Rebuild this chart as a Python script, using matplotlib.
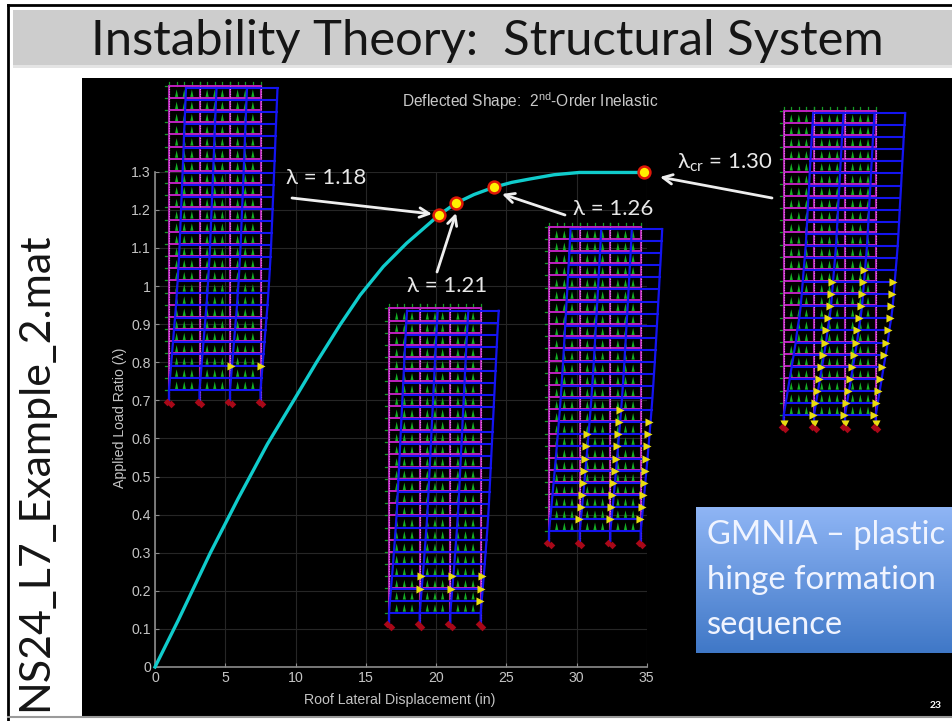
#!/usr/bin/env python3
"""Slide: load-displacement curve with deflected frame shapes at four load levels."""

import numpy as np
import matplotlib
matplotlib.use("Agg")
import matplotlib.pyplot as plt
from matplotlib.collections import PolyCollection
from matplotlib.patches import Rectangle

plt.rcParams['font.family'] = ['Lato', 'DejaVu Sans']
plt.rcParams['mathtext.fontset'] = 'custom'
plt.rcParams['mathtext.rm'] = 'DejaVu Sans'
plt.rcParams['mathtext.default'] = 'regular'

W, H = 952, 721

# load-displacement curve
roof_disp = [0, 1.66, 3.93, 5.93, 8, 9.96, 11.5, 13.17, 14.6, 16.25, 17.9, 19.8, 20.2, 21.4, 22.7, 24.1, 25.4, 26.7, 28.4, 30.2, 34.8]
load_ratio = [0, 0.123, 0.299, 0.443, 0.585, 0.705, 0.800, 0.898, 0.976, 1.051, 1.112, 1.173, 1.186, 1.217, 1.240, 1.259, 1.272, 1.281, 1.292, 1.298, 1.298]

# the four marked load levels
mark_disp = [20.2, 21.4, 24.1, 34.8]
mark_load = [1.186, 1.217, 1.259, 1.298]

x_ticks = [0, 5, 10, 15, 20, 25, 30, 35]
y_ticks = [0, 0.1, 0.2, 0.3, 0.4, 0.5, 0.6, 0.7, 0.8, 0.9, 1, 1.1, 1.2, 1.3]
y_tick_labels = ['0', '0.1', '0.2', '0.3', '0.4', '0.5', '0.6', '0.7', '0.8', '0.9', '1', '1.1', '1.2', '1.3']

# lateral drift of each floor level (bottom to top), in picture pixels
drift_a = [0, 1, 2, 3, 4, 5, 6, 7, 7.8, 8.6, 9.3, 10, 10.6, 11.1, 11.6, 12.1, 12.6, 13.1, 13.6, 14.1, 14.6, 15, 15.5, 16, 16.5, 17]
drift_b = [0, 1, 2, 3, 4, 4.9, 5.8, 6.7, 7.5, 8.2, 8.8, 9.4, 10, 10.6, 11.2, 11.8, 12.4, 13, 13.6, 14.2, 14.8, 15.4, 16, 16.6, 17.3, 18]
drift_c = [0, 1.2, 2.4, 3.5, 4.6, 5.7, 6.8, 7.8, 8.8, 9.8, 10.8, 11.7, 12.5, 13.3, 14.1, 14.8, 15.5, 16.2, 16.9, 17.6, 18.3, 18.9, 19.6, 20.3, 20.9, 21.5]
drift_d = [0, 2, 4, 6, 8, 10, 12, 13.5, 15.5, 17, 18, 19, 20, 21, 22, 22.7, 23.4, 24, 24.7, 25.4, 26, 26.7, 27.4, 28, 28.8, 29.5]

# plastic hinges: floor levels per column (columns 1..3 counted from the left)
hinges_a = {2: [2], 3: [2]}
hinges_b = {1: [2, 3], 2: [2, 3], 3: [1, 2, 3]}
hinges_c = {1: [1, 2, 3, 4, 5, 6, 7, 8],
            2: [1, 2, 3, 4, 5, 6, 7, 8, 9, 10],
            3: [1, 2, 3, 4, 5, 6, 7, 8, 9]}
hinges_d = {1: [0, 1, 2, 3, 4, 5, 6, 7, 8, 9, 10, 11],
            2: [0, 1, 2, 3, 4, 5, 6, 7, 8, 9, 10, 11, 12],
            3: [0, 1, 2, 3, 4, 5, 6, 7, 8, 9, 10, 11]}


def draw_frame(ax, columns, base_y, drift, hinges, base_hinges=False):
    """Undeformed frame in magenta, loads in green, deflected shape in blue."""
    story = 12.17
    levels = len(drift)
    floors = [base_y - story * i for i in range(levels)]
    drop = [2.3 * i / (levels - 1) for i in range(levels)]
    ground = base_y + 10

    # gravity load spikes and small lateral ticks
    spikes = []
    for i in range(levels):
        if i < levels - 1:
            for c in range(3):
                bay = columns[c + 1] - columns[c]
                for q in (0.25, 0.5, 0.75):
                    sx = columns[c] + q * bay
                    spikes.append([(sx - 1.6, floors[i] - 1), (sx + 1.6, floors[i] - 1), (sx, floors[i] - 8.5)])
        ax.plot([columns[0] - 4, columns[0]], [floors[i], floors[i]], color='#169a26', lw=0.9, zorder=3)
    ax.add_collection(PolyCollection(spikes, facecolors='#14b024', edgecolors='none', zorder=3))
    top = floors[-1]
    for c in range(3):
        for q in (0, 0.25, 0.5, 0.75, 1):
            sx = columns[c] + q * (columns[c + 1] - columns[c])
            ax.plot([sx, sx], [top - 4, top], color='#169a26', lw=0.9, zorder=3)

    # undeformed
    for y in floors:
        ax.plot([columns[0], columns[-1]], [y, y], color='#c020c0', lw=1.4, zorder=4)
    for x in columns:
        ax.plot([x, x], [ground, top], color='#b020b0', lw=1.5, zorder=4)
        ax.plot([x, x], [ground, top], color='#e08ce0', lw=0.8, ls=(0, (1, 1.2)), zorder=4)

    # deflected
    ys = [y + d for y, d in zip(floors, drop)]
    for i in range(levels):
        ax.plot([columns[0] + drift[i], columns[-1] + drift[i]], [ys[i], ys[i]], color='#1414f0', lw=1.5, zorder=5)
    for x in columns:
        px = [x] + [x + d for d in drift]
        py = [ground] + ys
        ax.plot(px, py, color='#1414f0', lw=1.6, zorder=5)

    # hinges
    for c, lv in hinges.items():
        hx = [columns[c] + drift[i] - 1.5 for i in lv]
        hy = [ys[i] for i in lv]
        ax.scatter(hx, hy, marker='>', s=34, color='#e8dc10', linewidths=0, zorder=6)
    if base_hinges:
        ax.scatter(columns, [base_y + 9] * 4, marker='v', s=34, color='#e8dc10', linewidths=0, zorder=6)

    # supports
    ax.scatter([x - 2 for x in columns], [ground + 1.5] * 4, marker='D', s=15, color='#a80818', linewidths=0, zorder=6)
    ax.scatter([x + 1.5 for x in columns], [ground + 4] * 4, marker='D', s=15, color='#a80818', linewidths=0, zorder=6)


def main():
    fig = plt.figure(figsize=(W / 100, H / 100), dpi=100, facecolor='white')

    # slide background in pixel coordinates
    bg = fig.add_axes([0, 0, 1, 1], zorder=0)
    bg.set_xlim(0, W)
    bg.set_ylim(H, 0)
    bg.axis('off')
    bg.add_patch(Rectangle((13, 65), W, 3, color='#e4e4e4', lw=0))
    bg.add_patch(Rectangle((13, 10), W, 55, color='#cdcdcd', lw=0))
    bg.plot([8, W], [5, 5], color='black', lw=2)
    bg.plot([8, 8], [5, H], color='black', lw=2)
    bg.plot([8, W], [717, 717], color='#9a9a9a', lw=1.5)
    bg.add_patch(Rectangle((82, 78), W - 82, 638, color='black', lw=0))

    grad = np.linspace(0, 1, 150).reshape(-1, 1)
    top_col = np.array([0.56, 0.71, 0.96])
    bot_col = np.array([0.25, 0.47, 0.78])
    img = top_col[None, None, :] * (1 - grad[:, :, None]) + bot_col[None, None, :] * grad[:, :, None]
    bg.imshow(img, extent=(696, W, 653, 507), aspect='auto', zorder=2)
    bg.set_xlim(0, W)
    bg.set_ylim(H, 0)

    bg.text(487, 41, 'Instability Theory:  Structural System', fontsize=35.3, ha='center', va='center', color='#151515')
    bg.text(35, 472, 'NS24_L7_Example_2.mat', fontsize=31, rotation=90, ha='center', va='center', color='#151515')
    for y, line in zip([535, 580, 625], ['GMNIA – plastic', 'hinge formation', 'sequence']):
        bg.text(707, y, line, fontsize=23.6, ha='left', va='center', color='#f0f4ff', zorder=3)
    bg.text(936, 705, '23', fontsize=7.5, fontweight='bold', ha='center', va='center', color='white')

    # chart
    ax = fig.add_axes([155 / W, (H - 667) / H, 491.75 / W, 495.3 / H], zorder=1)
    ax.patch.set_alpha(0)
    ax.set_xlim(0, 35)
    ax.set_ylim(0, 1.3)
    ax.set_xticks(x_ticks)
    ax.set_yticks(y_ticks)
    ax.set_yticklabels(y_tick_labels)
    ax.grid(True, color='#262626', lw=0.8)
    ax.set_axisbelow(True)
    for side in ('top', 'right'):
        ax.spines[side].set_visible(False)
    for side in ('left', 'bottom'):
        ax.spines[side].set_color('#8c8c8c')
        ax.spines[side].set_linewidth(1.2)
    ax.tick_params(direction='in', length=3, width=0.8, color='#8c8c8c', labelcolor='#c4c4c4', pad=3)
    for lab in ax.get_xticklabels() + ax.get_yticklabels():
        lab.set_fontfamily('Liberation Sans')
        lab.set_fontsize(10.2)
    ax.set_xlabel('Roof Lateral Displacement (in)', family='Liberation Sans', fontsize=10.2, color='#c4c4c4')
    ax.set_ylabel('Applied Load Ratio (λ)', family=['Liberation Sans', 'DejaVu Sans'], fontsize=10.2, color='#c4c4c4')
    ax.xaxis.set_label_coords((400 - 155) / 491.75, -(700 - 667) / 495.3)
    ax.yaxis.set_label_coords((120 - 155) / 491.75, (667 - 418) / 495.3)
    ax.xaxis.label.set_va('center')
    ax.yaxis.label.set_va('center')
    ax.plot(roof_disp, load_ratio, color='#10cccc', lw=2.4, clip_on=False, zorder=3)
    ax.plot(mark_disp, mark_load, 'o', ms=8.5, mfc='#fff000', mec='#e01808', mew=1.8, clip_on=False, zorder=8, ls='none')

    # frames and annotations, pixel coordinates again
    ov = fig.add_axes([0, 0, 1, 1], zorder=2)
    ov.patch.set_alpha(0)
    ov.set_xlim(0, W)
    ov.set_ylim(H, 0)
    ov.axis('off')

    draw_frame(ov, [169, 199.5, 230, 260.5], 390, drift_a, hinges_a)
    draw_frame(ov, [389, 419.7, 450.3, 480.7], 612.7, drift_b, hinges_b)
    draw_frame(ov, [549, 579.7, 610.3, 640.7], 531, drift_c, hinges_c)
    draw_frame(ov, [783.7, 814, 845, 875.7], 415, drift_d, hinges_d, base_hinges=True)

    ov.text(530, 101, 'Deflected Shape:  2$^{nd}$-Order Inelastic', family='Liberation Sans', fontsize=11.2, ha='center', va='center', color='#c8c8c8')

    ann = dict(fontsize=16, color='#e8e8e8', ha='center', va='center', zorder=9)
    ov.text(326, 178, 'λ = 1.18', **ann)
    ov.text(447, 286, 'λ = 1.21', **ann)
    ov.text(613, 209, 'λ = 1.26', **ann)
    ov.text(725, 163, r'$\lambda_{cr}$ = 1.30', **ann)

    arrows = [((292, 198), (432, 214)), ((437, 272), (456, 213)), ((565, 215), (502, 194)), ((772, 198), (660, 177))]
    for start, tip in arrows:
        ov.annotate('', xy=tip, xytext=start, zorder=9,
                    arrowprops=dict(arrowstyle='->', color='#eeeeee', lw=2, mutation_scale=17, shrinkA=0, shrinkB=0))

    fig.savefig('out.png', dpi=100)


if __name__ == "__main__":
    main()
